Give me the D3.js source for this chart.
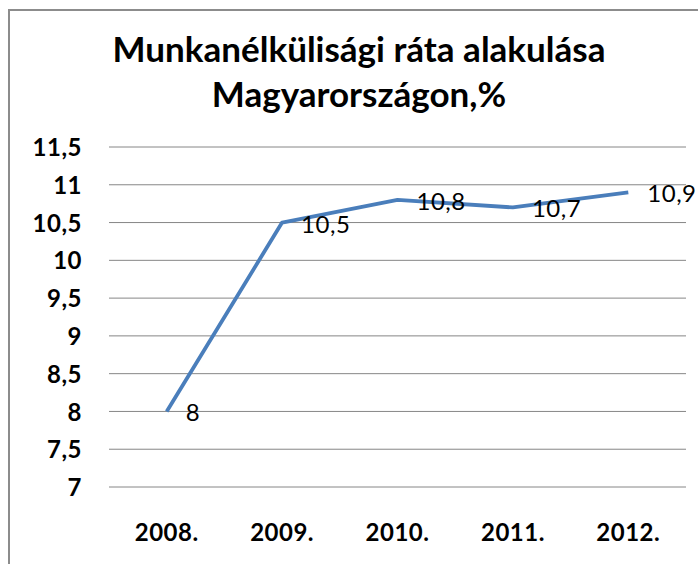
<!DOCTYPE html>
<html>
<head>
<meta charset="utf-8">
<script src="https://cdn.jsdelivr.net/npm/d3@7"></script>
<style>
  body { margin: 0; background: #fff; }
  text { font-family: Lato, "Open Sans", sans-serif; }
</style>
</head>
<body>
<script>
// chart data
const years = ["2008.", "2009.", "2010.", "2011.", "2012."];
const rates = [8, 10.5, 10.8, 10.7, 10.9];
const yTicks = [7, 7.5, 8, 8.5, 9, 9.5, 10, 10.5, 11, 11.5];
const titleLines = ["Munkanélkülisági ráta alakulása", "Magyarországon,%"];

const svgWidth = 698;
const svgHeight = 564;
const plot = {left: 109, right: 686, top: 147, bottom: 487};

const fmt = v => String(v).replace(".", ",");

const svg = d3.select("body").append("svg")
    .attr("width", svgWidth)
    .attr("height", svgHeight);

// outer chart border (runs past the right/bottom edge)
svg.append("rect")
    .attr("x", 9).attr("y", 10)
    .attr("width", 720).attr("height", 600)
    .attr("fill", "none")
    .attr("stroke", "#8c8c8c")
    .attr("stroke-width", 2);

// title
svg.append("g").selectAll("text")
    .data(titleLines)
    .join("text")
    .attr("x", 359)
    .attr("y", (d, i) => 62 + i * 45)
    .attr("text-anchor", "middle")
    .style("font-size", "35px")
    .style("font-weight", "bold")
    .text(d => d);

const x = d3.scaleBand()
    .domain(years)
    .range([plot.left, plot.right]);

const y = d3.scaleLinear()
    .domain([7, 11.5])
    .range([plot.bottom, plot.top]);

// gridlines
svg.append("g").selectAll("line")
    .data(yTicks)
    .join("line")
    .attr("x1", plot.left).attr("x2", plot.right)
    .attr("y1", d => y(d)).attr("y2", d => y(d))
    .attr("stroke", "#868686")
    .attr("stroke-width", 1);

const tickStyle = sel => sel
    .style("font-family", "Lato, sans-serif")
    .style("font-size", "24px")
    .style("font-weight", "bold")
    .style("letter-spacing", "0.5px")
    .attr("fill", "#000");

// y axis labels
const yAxis = svg.append("g")
    .attr("transform", `translate(${plot.left - 27},0)`)
    .call(d3.axisLeft(y).tickValues(yTicks).tickFormat(fmt).tickSize(0).tickPadding(0));
yAxis.select(".domain").remove();
yAxis.selectAll("text").call(tickStyle).attr("dy", "0.36em");

// x axis labels
const xAxis = svg.append("g")
    .attr("transform", `translate(0,${plot.bottom + 37})`)
    .call(d3.axisBottom(x).tickSize(0).tickPadding(0));
xAxis.select(".domain").remove();
xAxis.selectAll("text").call(tickStyle);

const cx = d => x(d) + x.bandwidth() / 2;
const points = years.map((yr, i) => [cx(yr), y(rates[i])]);

// series line
svg.append("path")
    .datum(points)
    .attr("d", d3.line())
    .attr("fill", "none")
    .attr("stroke", "#4a7ebb")
    .attr("stroke-width", 3.8)
    .attr("stroke-linejoin", "round");

// data labels
svg.append("g").selectAll("text")
    .data(rates)
    .join("text")
    .attr("x", (d, i) => points[i][0] + 19)
    .attr("y", (d, i) => points[i][1] + 10)
    .style("font-size", "24px")
    .style("letter-spacing", "0.5px")
    .attr("fill", "#000")
    .text(d => fmt(d));
</script>
</body>
</html>
